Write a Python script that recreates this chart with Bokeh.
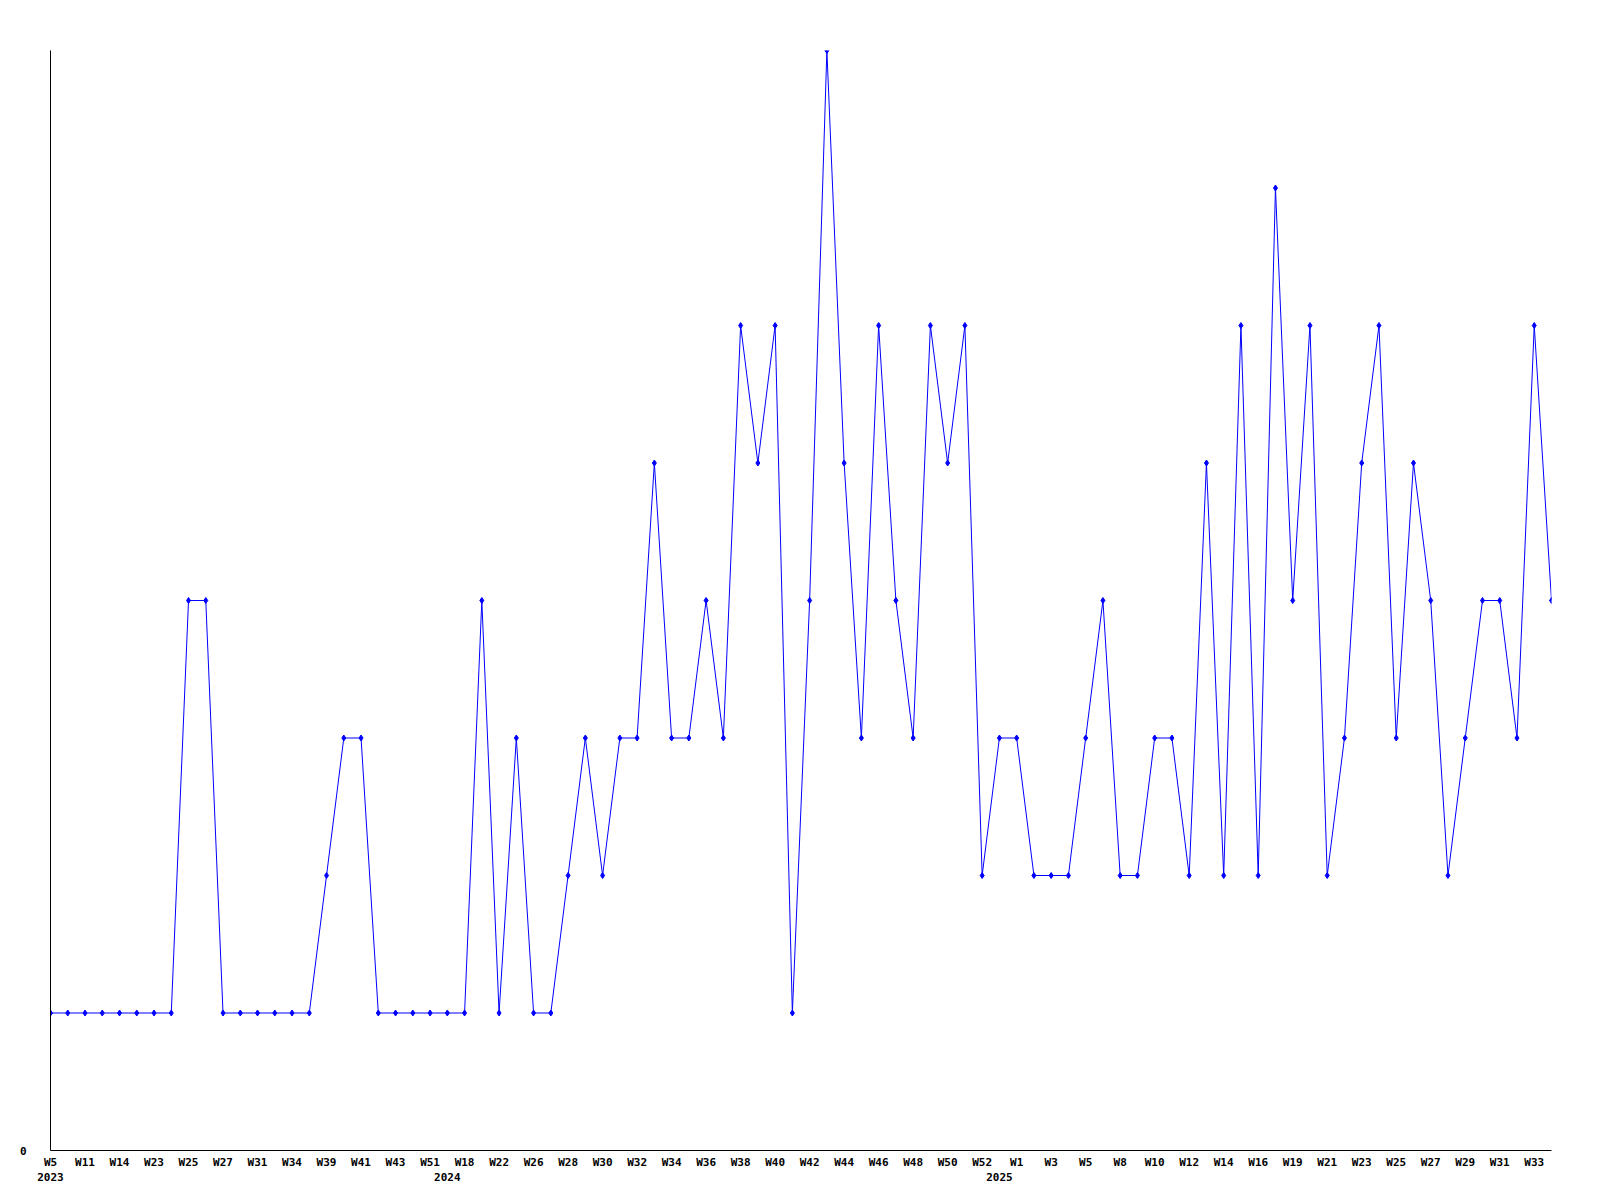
from bokeh.plotting import figure
from bokeh.models import Range1d, FixedTicker, LinearAxis
from bokeh.embed import file_html
from bokeh.resources import INLINE

# weekly values, one per point (88 points)
values = [1, 1, 1, 1, 1, 1, 1, 1, 4, 4,
          1, 1, 1, 1, 1, 1, 2, 3, 3, 1,
          1, 1, 1, 1, 1, 4, 1, 3, 1, 1,
          2, 3, 2, 3, 3, 5, 3, 3, 4, 3,
          6, 5, 6, 1, 4, 8, 5, 3, 6, 4,
          3, 6, 5, 6, 2, 3, 3, 2, 2, 2,
          3, 4, 2, 2, 3, 3, 2, 5, 2, 6,
          2, 7, 4, 6, 2, 3, 5, 6, 3, 5,
          4, 2, 3, 4, 4, 3, 6, 4]

# week labels shown on every second point
week_labels = ["W5", "W11", "W14", "W23", "W25", "W27", "W31", "W34", "W39", "W41",
               "W43", "W51", "W18", "W22", "W26", "W28", "W30", "W32", "W34", "W36",
               "W38", "W40", "W42", "W44", "W46", "W48", "W50", "W52", "W1", "W3",
               "W5", "W8", "W10", "W12", "W14", "W16", "W19", "W21", "W23", "W25",
               "W27", "W29", "W31", "W33"]

# year labels and the point where each year starts
year_labels = ["2023", "2024", "2025"]
year_points = [0, 23, 55]

xs = list(range(len(values)))
week_ticks = list(range(0, len(values), 2))[:len(week_labels)]

FONT = "DejaVu Sans Mono"
BLUE = "#0000ff"

p = figure(frame_width=1501, frame_height=1100,
           x_range=Range1d(0, len(values) - 1), y_range=Range1d(0, 8),
           output_backend="svg", toolbar_location=None,
           min_border_left=50, min_border_top=50, min_border_right=20,
           min_border_bottom=40)
p.outline_line_color = None
p.xgrid.visible = False
p.ygrid.visible = False
p.background_fill_color = "white"
p.border_fill_color = "white"

p.line(xs, values, line_color=BLUE, line_width=1)
p.scatter(xs, values, marker="diamond", size=6, fill_color=BLUE, line_color=BLUE)

# x axis with week labels
xa = p.xaxis[0]
xa.ticker = FixedTicker(ticks=week_ticks)
xa.major_label_overrides = {t: lab for t, lab in zip(week_ticks, week_labels)}
xa.major_tick_out = 0
xa.major_tick_in = 0
xa.minor_tick_out = 0
xa.minor_tick_in = 0
xa.major_label_standoff = 5
xa.axis_line_color = "black"
xa.major_label_text_font = FONT
xa.major_label_text_font_style = "bold"
xa.major_label_text_font_size = "11px"
xa.major_label_text_color = "black"

# second axis below with year labels
ya2 = LinearAxis(ticker=FixedTicker(ticks=year_points))
ya2.major_label_overrides = {t: lab for t, lab in zip(year_points, year_labels)}
ya2.axis_line_color = None
ya2.major_tick_out = 0
ya2.major_tick_in = 0
ya2.minor_tick_out = 0
ya2.minor_tick_in = 0
ya2.major_label_standoff = 1
ya2.major_label_text_font = FONT
ya2.major_label_text_font_style = "bold"
ya2.major_label_text_font_size = "11px"
ya2.major_label_text_color = "black"
p.add_layout(ya2, "below")

# y axis: only the zero label
yax = p.yaxis[0]
yax.ticker = FixedTicker(ticks=[0])
yax.major_tick_out = 0
yax.major_tick_in = 0
yax.minor_tick_out = 0
yax.minor_tick_in = 0
yax.major_label_standoff = 24
yax.axis_line_color = "black"
yax.major_label_text_font = FONT
yax.major_label_text_font_style = "bold"
yax.major_label_text_font_size = "11px"
yax.major_label_text_color = "black"

open("out.html", "w").write(file_html(p, INLINE))
